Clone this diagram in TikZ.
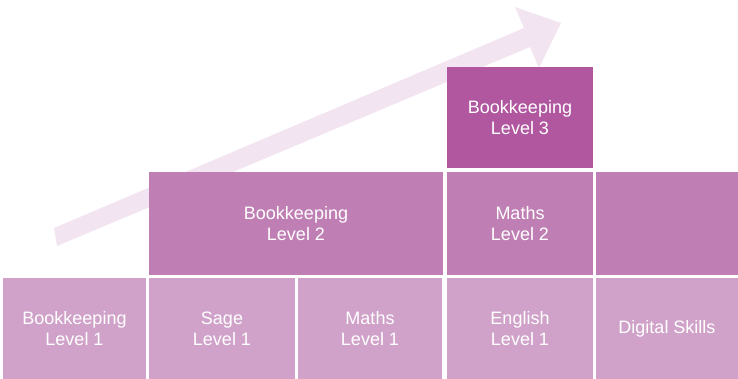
\documentclass[tikz,border=0pt]{standalone}
\usepackage{fontspec}
\setmainfont{Liberation Sans}

\definecolor{levelone}{RGB}{208,162,201}
\definecolor{leveltwo}{RGB}{191,127,180}
\definecolor{levelthree}{RGB}{176,87,160}
\definecolor{arrowpink}{RGB}{242,228,241}

\tikzset{
    box/.style={rectangle, inner sep=0pt, text=white, align=center,
        font=\fontsize{18}{21}\selectfont},
    lowbox/.style={box, fill=levelone, minimum height=101pt},
    midbox/.style={box, fill=leveltwo, minimum height=103pt},
    topbox/.style={box, fill=levelthree, minimum height=101pt}
}

\begin{document}
\begin{tikzpicture}[x=1pt, y=-1pt]
    \useasboundingbox (0,0) rectangle (738,379);

    % Arrow
    \fill[arrowpink] (54,228) -- (524,28) -- (515,7) -- (561,23)
        -- (539,68) -- (530,47) -- (57,246) -- cycle;

    % Level 1 row
    \node[lowbox, minimum width=143pt] (bk1) at (74.5,328.5) {Bookkeeping\\Level 1};
    \node[lowbox, minimum width=146pt] (sage1) at (222,328.5) {Sage\\Level 1};
    \node[lowbox, minimum width=144pt] (maths1) at (370,328.5) {Maths\\Level 1};
    \node[lowbox, minimum width=146pt] (eng1) at (520,328.5) {English\\Level 1};
    \node[lowbox, minimum width=142pt] (digital) at (667,328.5) {Digital Skills};

    % Level 2 row
    \node[midbox, minimum width=294pt] (bk2) at (296,223.5) {Bookkeeping\\Level 2};
    \node[midbox, minimum width=146pt] (maths2) at (520,223.5) {Maths\\Level 2};
    \node[midbox, minimum width=142pt] (blank2) at (667,223.5) {};

    % Level 3
    \node[topbox, minimum width=146pt] (bk3) at (520,117.5) {Bookkeeping\\Level 3};
\end{tikzpicture}
\end{document}
